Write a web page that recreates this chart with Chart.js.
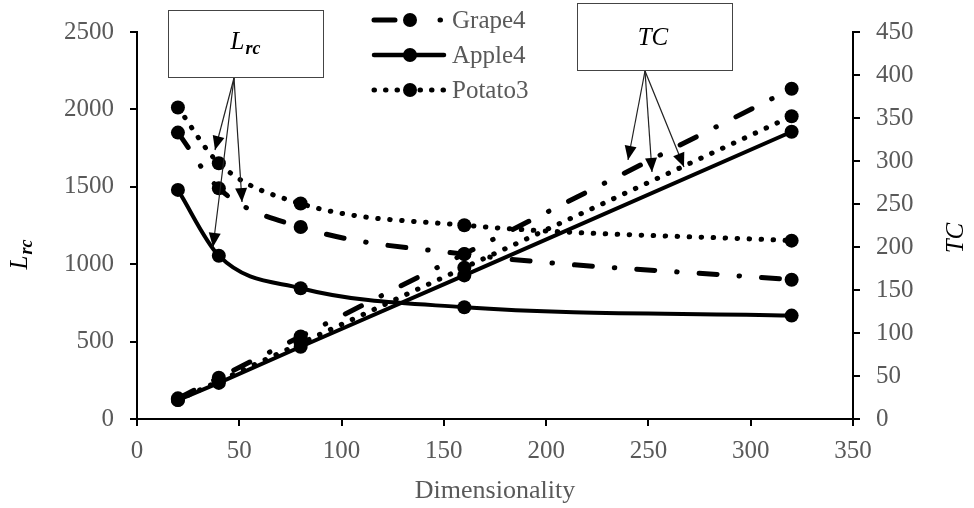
<!DOCTYPE html>
<html lang="en">
<head>
    <meta charset="UTF-8">
    <title>Lrc y TC frente a dimensionalidad</title>
    <style>
        body {
            margin: 0;
            background-color: #ffffff;
        }
        .chart-box {
            width: 974px;
            height: 508px;
        }
    </style>
    <script src="https://cdn.jsdelivr.net/npm/chart.js"></script>
</head>
<body>
    <div class="chart-box">
        <canvas id="lrcChart" width="974" height="508"></canvas>
    </div>
    <script>
        // dimensiones medidas
        const dims = [20, 40, 80, 160, 320];

        // Lrc (eje izquierdo)
        const grapeLrc = [1850, 1490, 1240, 1065, 900];
        const appleLrc = [1480, 1055, 845, 722, 668];
        const potatoLrc = [2012, 1652, 1392, 1252, 1152];

        // TC (eje derecho)
        const grapeTC = [24, 48, 96, 192, 384];
        const appleTC = [22, 42, 84, 167, 334];
        const potatoTC = [22, 44, 88, 176, 352];

        const seriesNames = ['Grape4', 'Apple4', 'Potato3'];
        const xTicks = [0, 50, 100, 150, 200, 250, 300, 350];

        const greyText = '#595959';
        const serif = "'Liberation Serif', 'Times New Roman', serif";

        const dashDot = [18, 22, 0.5, 22];
        const dotted = [0.5, 11.5];

        function pts(ys) {
            return dims.map((d, i) => ({ x: d, y: ys[i] }));
        }

        function serie(label, ys, axis, dash, smooth) {
            return {
                label: label,
                data: pts(ys),
                yAxisID: axis,
                borderColor: '#000',
                backgroundColor: '#000',
                borderWidth: dash.length ? 5 : 4,
                borderDash: dash,
                borderCapStyle: 'round',
                pointRadius: 7,
                pointBorderWidth: 0,
                pointBackgroundColor: '#000',
                cubicInterpolationMode: smooth ? 'monotone' : 'default',
                tension: 0,
                fill: false
            };
        }

        // cajas, flechas, titulos de ejes y leyenda
        const extras = {
            id: 'extras',
            afterDraw(chart) {
                const ctx = chart.ctx;
                ctx.save();

                function arrow(x0, y0, x1, y1) {
                    ctx.setLineDash([]);
                    ctx.strokeStyle = '#222';
                    ctx.lineWidth = 1.2;
                    ctx.beginPath();
                    ctx.moveTo(x0, y0);
                    ctx.lineTo(x1, y1);
                    ctx.stroke();
                    const a = Math.atan2(y1 - y0, x1 - x0);
                    const len = 14, half = 6;
                    ctx.fillStyle = '#000';
                    ctx.beginPath();
                    ctx.moveTo(x1, y1);
                    ctx.lineTo(x1 - len * Math.cos(a) + half * Math.sin(a), y1 - len * Math.sin(a) - half * Math.cos(a));
                    ctx.lineTo(x1 - len * Math.cos(a) - half * Math.sin(a), y1 - len * Math.sin(a) + half * Math.cos(a));
                    ctx.closePath();
                    ctx.fill();
                }

                function box(x, y, w, h) {
                    ctx.setLineDash([]);
                    ctx.fillStyle = '#fff';
                    ctx.fillRect(x, y, w, h);
                    ctx.strokeStyle = '#444';
                    ctx.lineWidth = 1;
                    ctx.strokeRect(x + 0.5, y + 0.5, w, h);
                }

                // L con subindice rc, centrado en (cx, cy)
                function lrcText(cx, cy) {
                    ctx.fillStyle = '#000';
                    ctx.textBaseline = 'alphabetic';
                    ctx.textAlign = 'left';
                    ctx.font = "italic 25px " + serif;
                    const wL = ctx.measureText('L').width;
                    ctx.font = "italic bold 18px " + serif;
                    const wS = ctx.measureText('rc').width;
                    const x0 = cx - (wL + wS) / 2;
                    ctx.font = "italic 25px " + serif;
                    ctx.fillText('L', x0, cy + 7);
                    ctx.font = "italic bold 18px " + serif;
                    ctx.fillText('rc', x0 + wL + 1, cy + 12);
                }

                // flechas Lrc
                arrow(234, 78, 215, 150);
                arrow(234, 78, 213, 247);
                arrow(234, 78, 242, 202);
                box(168, 10, 155, 67);
                lrcText(245, 42);

                // flechas TC
                arrow(645, 71, 628, 160);
                arrow(645, 71, 652, 172);
                arrow(645, 71, 684, 167);
                box(577, 3, 155, 67);
                ctx.fillStyle = '#000';
                ctx.font = "italic 25px " + serif;
                ctx.textAlign = 'center';
                ctx.textBaseline = 'middle';
                ctx.fillText('TC', 653, 38);

                // titulos de los ejes verticales
                ctx.save();
                ctx.translate(24, 255);
                ctx.rotate(-Math.PI / 2);
                lrcText(0, -4);
                ctx.restore();

                ctx.save();
                ctx.translate(956, 238);
                ctx.rotate(-Math.PI / 2);
                ctx.fillStyle = '#000';
                ctx.font = "italic 25px " + serif;
                ctx.textAlign = 'center';
                ctx.textBaseline = 'middle';
                ctx.fillText('TC', 0, 0);
                ctx.restore();

                // leyenda
                const styles = [
                    { dash: [21, 45, 0.5, 100], w: 5 },
                    { dash: [], w: 4.5 },
                    { dash: [0.5, 11], w: 5 }
                ];
                const rowsY = [20, 55, 90];
                seriesNames.forEach((name, i) => {
                    const y = rowsY[i];
                    ctx.strokeStyle = '#000';
                    ctx.lineWidth = styles[i].w;
                    ctx.lineCap = 'round';
                    ctx.setLineDash(styles[i].dash);
                    ctx.beginPath();
                    ctx.moveTo(374, y);
                    ctx.lineTo(444, y);
                    ctx.stroke();
                    ctx.setLineDash([]);
                    ctx.fillStyle = '#000';
                    ctx.beginPath();
                    ctx.arc(410, y, 7, 0, Math.PI * 2);
                    ctx.fill();
                    ctx.fillStyle = greyText;
                    ctx.font = "25px " + serif;
                    ctx.textAlign = 'left';
                    ctx.textBaseline = 'middle';
                    ctx.fillText(name, 452, y + 1);
                });

                ctx.restore();
            }
        };

        const tickFont = { family: serif, size: 25 };
        const plain = (v) => String(v);

        new Chart(document.getElementById('lrcChart'), {
            type: 'line',
            data: {
                datasets: [
                    serie('Grape4', grapeLrc, 'y', dashDot, true),
                    serie('Apple4', appleLrc, 'y', [], true),
                    serie('Potato3', potatoLrc, 'y', dotted, true),
                    serie('Grape4 TC', grapeTC, 'y2', dashDot, false),
                    serie('Apple4 TC', appleTC, 'y2', [], false),
                    serie('Potato3 TC', potatoTC, 'y2', dotted, false)
                ]
            },
            options: {
                responsive: false,
                animation: false,
                layout: { padding: { top: 32, right: 0, bottom: 0, left: 0 } },
                plugins: {
                    legend: { display: false },
                    tooltip: { enabled: false }
                },
                scales: {
                    x: {
                        type: 'linear',
                        min: 0,
                        max: 350,
                        afterBuildTicks: (s) => { s.ticks = xTicks.map(v => ({ value: v })); },
                        afterFit: (s) => { s.height = 89; },
                        grid: { drawOnChartArea: false, drawTicks: true, tickLength: 7, color: '#000', lineWidth: 2 },
                        border: { color: '#000', width: 2 },
                        ticks: { color: greyText, font: tickFont, padding: 10, maxRotation: 0, callback: plain },
                        title: {
                            display: true,
                            text: 'Dimensionality',
                            color: greyText,
                            font: { family: serif, size: 26 },
                            padding: { top: 0, bottom: 1 }
                        }
                    },
                    y: {
                        position: 'left',
                        min: 0,
                        max: 2500,
                        afterFit: (s) => { s.width = 137; },
                        grid: { drawOnChartArea: false, drawTicks: true, tickLength: 7, color: '#000', lineWidth: 2 },
                        border: { color: '#000', width: 2 },
                        ticks: { stepSize: 500, color: greyText, font: tickFont, padding: 16, callback: plain }
                    },
                    y2: {
                        position: 'right',
                        min: 0,
                        max: 450,
                        afterFit: (s) => { s.width = 121; },
                        grid: { drawOnChartArea: false, drawTicks: true, tickLength: 7, color: '#000', lineWidth: 2 },
                        border: { color: '#000', width: 2 },
                        ticks: { stepSize: 50, color: greyText, font: tickFont, padding: 16, callback: plain }
                    }
                }
            },
            plugins: [extras]
        });
    </script>
</body>
</html>
